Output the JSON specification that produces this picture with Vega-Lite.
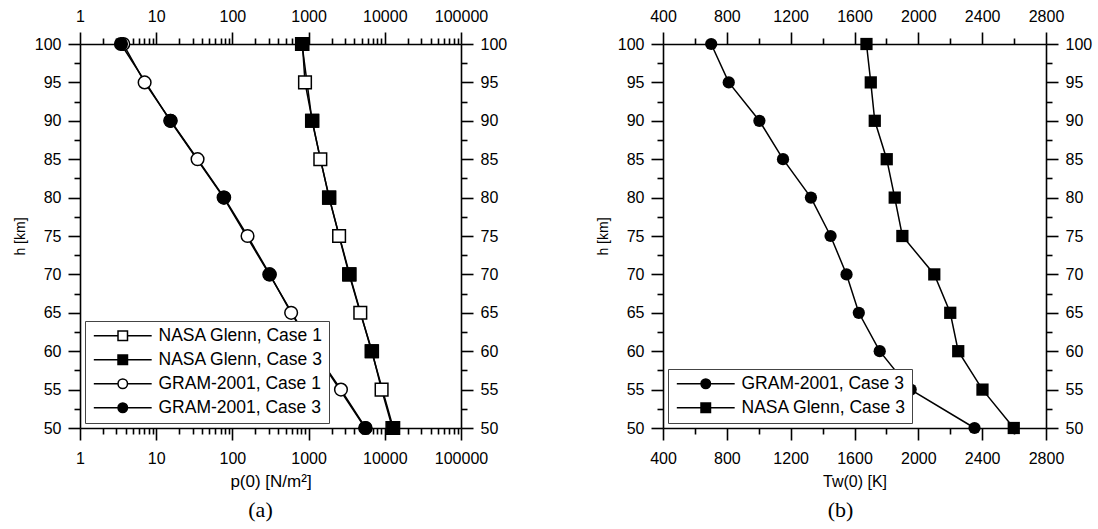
{
  "$schema": "https://vega.github.io/schema/vega-lite/v6.json",
  "autosize": {"type": "pad"},
  "padding": {"left": 13, "top": 8, "right": 5, "bottom": 5},
  "background": "white",
  "datasets": {
    "pressure": [
      {"series": "NASA Glenn, Case 1", "h": 100, "p": 830},
      {"series": "NASA Glenn, Case 1", "h": 95, "p": 897},
      {"series": "NASA Glenn, Case 1", "h": 90, "p": 1120},
      {"series": "NASA Glenn, Case 1", "h": 85, "p": 1425},
      {"series": "NASA Glenn, Case 1", "h": 80, "p": 1870},
      {"series": "NASA Glenn, Case 1", "h": 75, "p": 2513},
      {"series": "NASA Glenn, Case 1", "h": 70, "p": 3400},
      {"series": "NASA Glenn, Case 1", "h": 65, "p": 4770},
      {"series": "NASA Glenn, Case 1", "h": 60, "p": 6800},
      {"series": "NASA Glenn, Case 1", "h": 55, "p": 9080},
      {"series": "NASA Glenn, Case 1", "h": 50, "p": 12600},
      {"series": "GRAM-2001, Case 1", "h": 100, "p": 3.7},
      {"series": "GRAM-2001, Case 1", "h": 95, "p": 7.05},
      {"series": "GRAM-2001, Case 1", "h": 90, "p": 15.5},
      {"series": "GRAM-2001, Case 1", "h": 85, "p": 34.9},
      {"series": "GRAM-2001, Case 1", "h": 80, "p": 78},
      {"series": "GRAM-2001, Case 1", "h": 75, "p": 158},
      {"series": "GRAM-2001, Case 1", "h": 70, "p": 310},
      {"series": "GRAM-2001, Case 1", "h": 65, "p": 590},
      {"series": "GRAM-2001, Case 1", "h": 60, "p": 1200},
      {"series": "GRAM-2001, Case 1", "h": 55, "p": 2660},
      {"series": "GRAM-2001, Case 1", "h": 50, "p": 5600},
      {"series": "NASA Glenn, Case 3", "h": 100, "p": 819},
      {"series": "NASA Glenn, Case 3", "h": 90, "p": 1109},
      {"series": "NASA Glenn, Case 3", "h": 80, "p": 1853},
      {"series": "NASA Glenn, Case 3", "h": 70, "p": 3450},
      {"series": "NASA Glenn, Case 3", "h": 60, "p": 6710},
      {"series": "NASA Glenn, Case 3", "h": 50, "p": 12900},
      {"series": "GRAM-2001, Case 3", "h": 100, "p": 3.45},
      {"series": "GRAM-2001, Case 3", "h": 90, "p": 15.3},
      {"series": "GRAM-2001, Case 3", "h": 80, "p": 76.7},
      {"series": "GRAM-2001, Case 3", "h": 70, "p": 305},
      {"series": "GRAM-2001, Case 3", "h": 60, "p": 1190},
      {"series": "GRAM-2001, Case 3", "h": 50, "p": 5530}
    ],
    "temperature": [
      {"series": "GRAM-2001, Case 3", "h": 100, "T": 702},
      {"series": "GRAM-2001, Case 3", "h": 95, "T": 812},
      {"series": "GRAM-2001, Case 3", "h": 90, "T": 1004},
      {"series": "GRAM-2001, Case 3", "h": 85, "T": 1152},
      {"series": "GRAM-2001, Case 3", "h": 80, "T": 1327},
      {"series": "GRAM-2001, Case 3", "h": 75, "T": 1450},
      {"series": "GRAM-2001, Case 3", "h": 70, "T": 1550},
      {"series": "GRAM-2001, Case 3", "h": 65, "T": 1627},
      {"series": "GRAM-2001, Case 3", "h": 60, "T": 1758},
      {"series": "GRAM-2001, Case 3", "h": 55, "T": 1952},
      {"series": "GRAM-2001, Case 3", "h": 50, "T": 2352},
      {"series": "NASA Glenn, Case 3", "h": 100, "T": 1675},
      {"series": "NASA Glenn, Case 3", "h": 95, "T": 1702},
      {"series": "NASA Glenn, Case 3", "h": 90, "T": 1727},
      {"series": "NASA Glenn, Case 3", "h": 85, "T": 1802},
      {"series": "NASA Glenn, Case 3", "h": 80, "T": 1852},
      {"series": "NASA Glenn, Case 3", "h": 75, "T": 1900},
      {"series": "NASA Glenn, Case 3", "h": 70, "T": 2100},
      {"series": "NASA Glenn, Case 3", "h": 65, "T": 2200},
      {"series": "NASA Glenn, Case 3", "h": 60, "T": 2250},
      {"series": "NASA Glenn, Case 3", "h": 55, "T": 2402},
      {"series": "NASA Glenn, Case 3", "h": 50, "T": 2598}
    ]
  },
  "config": {
    "font": "Liberation Sans",
    "view": {"stroke": null},
    "axis": {
      "grid": false,
      "labelFont": "Liberation Sans",
      "labelFontSize": 16,
      "labelColor": "black",
      "titleFont": "Liberation Sans",
      "titleFontSize": 14,
      "titleFontWeight": "normal",
      "titleColor": "black",
      "domainColor": "black",
      "domainWidth": 1.6,
      "tickColor": "black",
      "tickWidth": 1.6,
      "labelFlush": false,
      "labelOverlap": false,
      "labelBound": false
    },
    "legend": {
      "labelFont": "Liberation Sans",
      "labelFontSize": 17.5,
      "labelColor": "black",
      "labelLimit": 400,
      "strokeColor": "#444444",
      "fillColor": "white",
      "padding": 6,
      "rowPadding": 5,
      "symbolOffset": 23,
      "labelOffset": 27,
      "symbolStrokeColor": "black",
      "symbolStrokeWidth": 1.5,
      "symbolOpacity": 1
    },
    "title": {"font": "Liberation Serif", "fontSize": 22, "fontWeight": "normal", "color": "black"}
  },
  "resolve": {
    "scale": {"shape": "independent", "fill": "independent", "stroke": "independent"},
    "legend": {"shape": "independent", "fill": "independent", "stroke": "independent"}
  },
  "spacing": 89,
  "hconcat": [
    {
      "width": 381,
      "height": 384,
      "data": {"name": "pressure"},
      "title": {"text": "(a)", "orient": "bottom", "anchor": "middle", "offset": 11, "dx": -10},
      "resolve": {"axis": {"x": "independent", "y": "independent"}},
      "layer": [
        {
          "mark": {"type": "line", "color": "black", "strokeWidth": 1.5},
          "encoding": {
            "x": {"field": "p", "type": "quantitative", "scale": {"type": "log", "domain": [1, 100000], "nice": false},
              "axis": {"orient": "bottom", "values": [1, 10, 100, 1000, 10000, 100000], "format": "d", "tickSize": 12, "labelPadding": 10, "title": "p(0) [N/m²]", "titleFontSize": 17, "titlePadding": 7}},
            "y": {"field": "h", "type": "quantitative", "scale": {"domain": [50, 100], "nice": false, "zero": false},
              "axis": {"orient": "left", "values": [50, 55, 60, 65, 70, 75, 80, 85, 90, 95, 100], "tickSize": 12, "labelPadding": 7, "title": "h [km]", "titlePadding": 7}},
            "detail": {"field": "series"},
            "order": {"field": "h", "type": "quantitative"}
          }
        },
        {
          "mark": {"type": "point", "opacity": 0},
          "encoding": {
            "x": {"field": "p", "type": "quantitative", "scale": {"type": "log", "domain": [1, 100000], "nice": false},
              "axis": {"orient": "bottom", "values": [2,3,4,5,6,7,8,9,20,30,40,50,60,70,80,90,200,300,400,500,600,700,800,900,2000,3000,4000,5000,6000,7000,8000,9000,20000,30000,40000,50000,60000,70000,80000,90000], "tickSize": 6, "labels": false, "domain": false, "title": null}},
            "y": {"field": "h", "type": "quantitative", "scale": {"domain": [50, 100], "nice": false, "zero": false},
              "axis": {"orient": "left", "values": [52.5, 57.5, 62.5, 67.5, 72.5, 77.5, 82.5, 87.5, 92.5, 97.5], "tickSize": 6, "labels": false, "domain": false, "title": null}}
          }
        },
        {
          "mark": {"type": "point", "opacity": 0},
          "encoding": {
            "x": {"field": "p", "type": "quantitative", "scale": {"type": "log", "domain": [1, 100000], "nice": false},
              "axis": {"orient": "top", "values": [1, 10, 100, 1000, 10000, 100000], "format": "d", "tickSize": 12, "labelPadding": 8, "title": null}},
            "y": {"field": "h", "type": "quantitative", "scale": {"domain": [50, 100], "nice": false, "zero": false},
              "axis": {"orient": "right", "values": [50, 55, 60, 65, 70, 75, 80, 85, 90, 95, 100], "tickSize": 12, "labelPadding": 7, "title": null}}
          }
        },
        {
          "mark": {"type": "point", "opacity": 0},
          "encoding": {
            "x": {"field": "p", "type": "quantitative", "scale": {"type": "log", "domain": [1, 100000], "nice": false},
              "axis": {"orient": "top", "values": [2,3,4,5,6,7,8,9,20,30,40,50,60,70,80,90,200,300,400,500,600,700,800,900,2000,3000,4000,5000,6000,7000,8000,9000,20000,30000,40000,50000,60000,70000,80000,90000], "tickSize": 6, "labels": false, "domain": false, "title": null}},
            "y": {"field": "h", "type": "quantitative", "scale": {"domain": [50, 100], "nice": false, "zero": false},
              "axis": {"orient": "right", "values": [52.5, 57.5, 62.5, 67.5, 72.5, 77.5, 82.5, 87.5, 92.5, 97.5], "tickSize": 6, "labels": false, "domain": false, "title": null}}
          }
        },
        {
          "transform": [{"filter": "indexof(datum.series, 'NASA') >= 0"}],
          "mark": {"type": "point", "shape": "square", "filled": true, "size": 160, "stroke": "black", "strokeWidth": 1.5, "opacity": 1},
          "encoding": {
            "x": {"field": "p", "type": "quantitative", "scale": {"type": "log", "domain": [1, 100000], "nice": false}, "axis": null},
            "y": {"field": "h", "type": "quantitative", "scale": {"domain": [50, 100], "nice": false, "zero": false}, "axis": null},
            "fill": {"field": "series", "type": "nominal",
              "scale": {"domain": ["NASA Glenn, Case 1", "NASA Glenn, Case 3", "GRAM-2001, Case 1", "GRAM-2001, Case 3"], "range": ["white", "black", "white", "black"]},
              "legend": {"orient": "bottom-left", "offset": 5, "title": null, "symbolSize": 90}}
          }
        },
        {
          "transform": [{"filter": "indexof(datum.series, 'GRAM') >= 0"}],
          "mark": {"type": "point", "shape": "circle", "filled": true, "size": 160, "stroke": "black", "strokeWidth": 1.5, "opacity": 1},
          "encoding": {
            "x": {"field": "p", "type": "quantitative", "scale": {"type": "log", "domain": [1, 100000], "nice": false}, "axis": null},
            "y": {"field": "h", "type": "quantitative", "scale": {"domain": [50, 100], "nice": false, "zero": false}, "axis": null},
            "fill": {"field": "series", "type": "nominal",
              "scale": {"domain": ["NASA Glenn, Case 1", "NASA Glenn, Case 3", "GRAM-2001, Case 1", "GRAM-2001, Case 3"], "range": ["white", "black", "white", "black"]},
              "legend": {"orient": "bottom-left", "offset": 5, "title": null, "symbolSize": 90}}
          }
        },
        {
          "mark": {"type": "point", "filled": true, "strokeWidth": 1.5, "opacity": 0},
          "encoding": {
            "x": {"field": "p", "type": "quantitative", "scale": {"type": "log", "domain": [1, 100000], "nice": false}, "axis": null},
            "y": {"field": "h", "type": "quantitative", "scale": {"domain": [50, 100], "nice": false, "zero": false}, "axis": null},
            "shape": {"field": "series", "type": "nominal",
              "scale": {"domain": ["NASA Glenn, Case 1", "NASA Glenn, Case 3", "GRAM-2001, Case 1", "GRAM-2001, Case 3"],
                "range": ["M-6.1,0H-1M1,0H6.1M-1,-1H1V1H-1Z", "M-6.1,0H-1M1,0H6.1M-1,-1H1V1H-1Z", "M-6.1,0H-1M1,0H6.1M1,0A1,1,0,1,1,-1,0A1,1,0,1,1,1,0Z", "M-6.1,0H-1M1,0H6.1M1,0A1,1,0,1,1,-1,0A1,1,0,1,1,1,0Z"]},
              "legend": {"orient": "bottom-left", "offset": 5, "title": null, "symbolSize": 90}},
            "fill": {"field": "series", "type": "nominal",
              "scale": {"domain": ["NASA Glenn, Case 1", "NASA Glenn, Case 3", "GRAM-2001, Case 1", "GRAM-2001, Case 3"], "range": ["white", "black", "white", "black"]},
              "legend": {"orient": "bottom-left", "offset": 5, "title": null, "symbolSize": 90}},
            "stroke": {"field": "series", "type": "nominal",
              "scale": {"domain": ["NASA Glenn, Case 1", "NASA Glenn, Case 3", "GRAM-2001, Case 1", "GRAM-2001, Case 3"], "range": ["black", "black", "black", "black"]},
              "legend": {"orient": "bottom-left", "offset": 5, "title": null, "symbolSize": 90}}
          }
        }
      ]
    },
    {
      "width": 383,
      "height": 384,
      "data": {"name": "temperature"},
      "title": {"text": "(b)", "orient": "bottom", "anchor": "middle", "offset": 11, "dx": -14},
      "resolve": {"axis": {"x": "independent", "y": "independent"}},
      "layer": [
        {
          "mark": {"type": "line", "color": "black", "strokeWidth": 1.5},
          "encoding": {
            "x": {"field": "T", "type": "quantitative", "scale": {"domain": [400, 2800], "nice": false, "zero": false},
              "axis": {"orient": "bottom", "values": [400, 800, 1200, 1600, 2000, 2400, 2800], "format": "d", "tickSize": 12, "labelPadding": 10, "title": "Tw(0) [K]", "titleFontSize": 16, "titlePadding": 7}},
            "y": {"field": "h", "type": "quantitative", "scale": {"domain": [50, 100], "nice": false, "zero": false},
              "axis": {"orient": "left", "values": [50, 55, 60, 65, 70, 75, 80, 85, 90, 95, 100], "tickSize": 12, "labelPadding": 7, "title": "h [km]", "titlePadding": 7}},
            "detail": {"field": "series"},
            "order": {"field": "h", "type": "quantitative"}
          }
        },
        {
          "mark": {"type": "point", "opacity": 0},
          "encoding": {
            "x": {"field": "T", "type": "quantitative", "scale": {"domain": [400, 2800], "nice": false, "zero": false},
              "axis": {"orient": "bottom", "values": [600, 1000, 1400, 1800, 2200, 2600], "tickSize": 6, "labels": false, "domain": false, "title": null}},
            "y": {"field": "h", "type": "quantitative", "scale": {"domain": [50, 100], "nice": false, "zero": false},
              "axis": {"orient": "left", "values": [52.5, 57.5, 62.5, 67.5, 72.5, 77.5, 82.5, 87.5, 92.5, 97.5], "tickSize": 6, "labels": false, "domain": false, "title": null}}
          }
        },
        {
          "mark": {"type": "point", "opacity": 0},
          "encoding": {
            "x": {"field": "T", "type": "quantitative", "scale": {"domain": [400, 2800], "nice": false, "zero": false},
              "axis": {"orient": "top", "values": [400, 800, 1200, 1600, 2000, 2400, 2800], "format": "d", "tickSize": 12, "labelPadding": 8, "title": null}},
            "y": {"field": "h", "type": "quantitative", "scale": {"domain": [50, 100], "nice": false, "zero": false},
              "axis": {"orient": "right", "values": [50, 55, 60, 65, 70, 75, 80, 85, 90, 95, 100], "tickSize": 12, "labelPadding": 7, "title": null}}
          }
        },
        {
          "mark": {"type": "point", "opacity": 0},
          "encoding": {
            "x": {"field": "T", "type": "quantitative", "scale": {"domain": [400, 2800], "nice": false, "zero": false},
              "axis": {"orient": "top", "values": [600, 1000, 1400, 1800, 2200, 2600], "tickSize": 6, "labels": false, "domain": false, "title": null}},
            "y": {"field": "h", "type": "quantitative", "scale": {"domain": [50, 100], "nice": false, "zero": false},
              "axis": {"orient": "right", "values": [52.5, 57.5, 62.5, 67.5, 72.5, 77.5, 82.5, 87.5, 92.5, 97.5], "tickSize": 6, "labels": false, "domain": false, "title": null}}
          }
        },
        {
          "transform": [{"filter": "indexof(datum.series, 'GRAM') >= 0"}],
          "mark": {"type": "point", "shape": "circle", "filled": true, "size": 150, "color": "black", "opacity": 1},
          "encoding": {
            "x": {"field": "T", "type": "quantitative", "scale": {"domain": [400, 2800], "nice": false, "zero": false}, "axis": null},
            "y": {"field": "h", "type": "quantitative", "scale": {"domain": [50, 100], "nice": false, "zero": false}, "axis": null}
          }
        },
        {
          "transform": [{"filter": "indexof(datum.series, 'NASA') >= 0"}],
          "mark": {"type": "point", "shape": "square", "filled": true, "size": 150, "color": "black", "opacity": 1},
          "encoding": {
            "x": {"field": "T", "type": "quantitative", "scale": {"domain": [400, 2800], "nice": false, "zero": false}, "axis": null},
            "y": {"field": "h", "type": "quantitative", "scale": {"domain": [50, 100], "nice": false, "zero": false}, "axis": null}
          }
        },
        {
          "mark": {"type": "point", "filled": true, "fill": "black", "strokeWidth": 1.5, "opacity": 0},
          "encoding": {
            "x": {"field": "T", "type": "quantitative", "scale": {"domain": [400, 2800], "nice": false, "zero": false}, "axis": null},
            "y": {"field": "h", "type": "quantitative", "scale": {"domain": [50, 100], "nice": false, "zero": false}, "axis": null},
            "shape": {"field": "series", "type": "nominal",
              "scale": {"domain": ["GRAM-2001, Case 3", "NASA Glenn, Case 3"],
                "range": ["M-6.1,0H-1M1,0H6.1M1,0A1,1,0,1,1,-1,0A1,1,0,1,1,1,0Z", "M-6.1,0H-1M1,0H6.1M-1,-1H1V1H-1Z"]},
              "legend": {"orient": "bottom-left", "offset": 5, "title": null, "symbolSize": 90}},
            "stroke": {"field": "series", "type": "nominal",
              "scale": {"domain": ["GRAM-2001, Case 3", "NASA Glenn, Case 3"], "range": ["black", "black"]},
              "legend": {"orient": "bottom-left", "offset": 5, "title": null, "symbolSize": 90}}
          }
        }
      ]
    }
  ]
}
